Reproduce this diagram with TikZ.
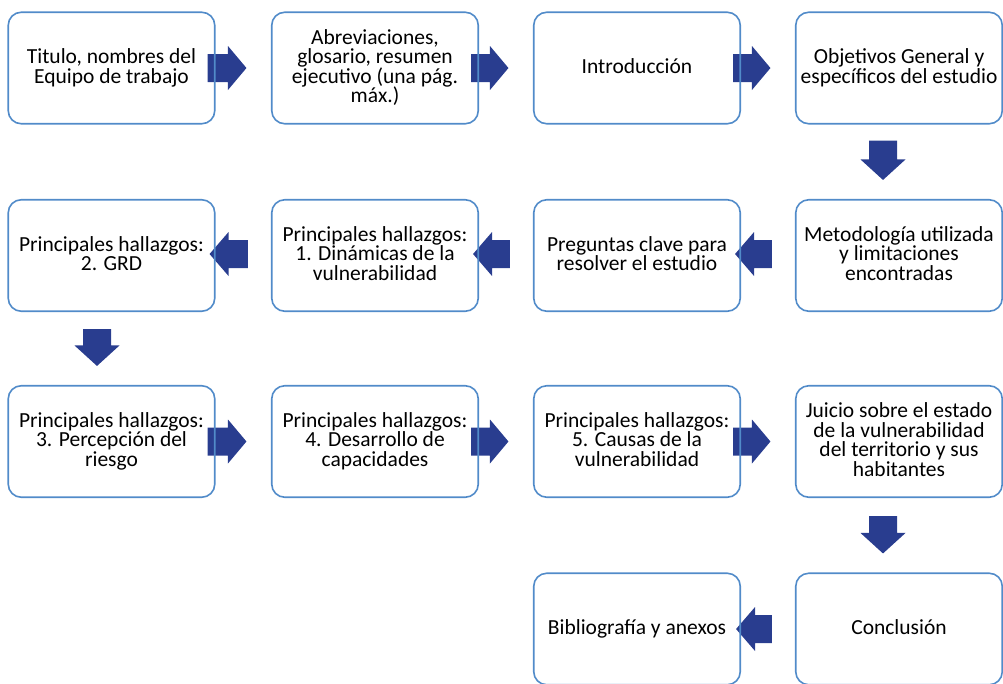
\documentclass[tikz,border=0pt]{standalone}
\usepackage{fontspec}
\setmainfont{Carlito}
\usetikzlibrary{calc}
\definecolor{boxline}{RGB}{81,139,201}
\definecolor{arrfill}{RGB}{41,61,143}
\newcommand\Hs{\rule{0pt}{16pt}}
\newcommand\Ds{\rule[-5.5pt]{0pt}{5.5pt}}
\pgfdeclarelayer{bg}
\pgfsetlayers{bg,main}
% block arrow from #1 to tip #2, head length #3, head half-width #4
\newcommand\blockarrow[4]{%
  \path (#1) coordinate (tmpA) (#2) coordinate (tmpB);
  \path ($(tmpB)!#3!(tmpA)$) coordinate (tmpH);
  \fill[arrfill] ($(tmpA)!14pt!90:(tmpB)$) -- ($(tmpH)!14pt!-90:(tmpA)$)
    -- ($(tmpH)!#4!-90:(tmpA)$) -- (tmpB) -- ($(tmpH)!#4!90:(tmpA)$)
    -- ($(tmpH)!14pt!90:(tmpA)$) -- ($(tmpA)!14pt!-90:(tmpB)$) -- cycle;}
\begin{document}
\begin{tikzpicture}[x=1pt,y=-1pt,
  box/.style={draw=boxline, line width=1.6pt, rounded corners=13pt,
    minimum width=206.5pt, minimum height=111.5pt, inner sep=0pt,
    align=center, font=\fontsize{21.5}{19.5}\selectfont}]
\useasboundingbox (0,0) rectangle (1003,683);
% row 1
\node[box] (b11) at (111.5,68) {\Hs Titulo, nombres del\\Equipo de trabajo\Ds};
\node[box] (b12) at (375,68) {\Hs Abreviaciones,\\glosario, resumen\\ejecutivo (una pág.\\máx.)\Ds};
\node[box] (b13) at (637,68) {\Hs Introducción\Ds};
\node[box] (b14) at (899,68) {\Hs Objetivos General y\\específicos del estudio\Ds};
% row 2
\node[box] (b21) at (111.5,255.5) {\Hs Principales hallazgos:\\2. GRD\Ds};
\node[box] (b22) at (375,255.5) {\Hs Principales hallazgos:\\1. Dinámicas de la\\vulnerabilidad\Ds};
\node[box] (b23) at (637,255.5) {\Hs Preguntas clave para\\resolver el estudio\Ds};
\node[box] (b24) at (899,255.5) {\Hs Metodología utilizada\\y limitaciones\\encontradas\Ds};
% row 3
\node[box] (b31) at (111.5,441.5) {\Hs Principales hallazgos:\\3. Percepción del\\riesgo\Ds};
\node[box] (b32) at (375,441.5) {\Hs Principales hallazgos:\\4. Desarrollo de\\capacidades\Ds};
\node[box] (b33) at (637,441.5) {\Hs Principales hallazgos:\\5. Causas de la\\vulnerabilidad\Ds};
\node[box] (b34) at (899,441.5) {\Hs Juicio sobre el estado\\de la vulnerabilidad\\del territorio y sus\\habitantes\Ds};
% row 4
\node[box] (b43) at (637,629) {\Hs Bibliografía y anexos\Ds};
\node[box] (b44) at (899,629) {\Hs Conclusión\Ds};
\begin{pgfonlayer}{bg}
% row 1
\blockarrow{[xshift=-8pt]b11.east}{[xshift=-24.5pt]b12.west}{18.5pt}{22pt}
\blockarrow{[xshift=-8pt]b12.east}{[xshift=-24.5pt]b13.west}{18.5pt}{22pt}
\blockarrow{[xshift=-8pt]b13.east}{[xshift=-24.5pt]b14.west}{18.5pt}{22pt}
% down
\blockarrow{[xshift=-16pt,yshift=-16pt]b14.south}{[xshift=-16pt,yshift=19pt]b24.north}{20.5pt}{22.5pt}
% row 2
\blockarrow{[xshift=-23pt,yshift=1.5pt]b24.west}{[xshift=-6pt,yshift=1.5pt]b23.east}{19pt}{22pt}
\blockarrow{[xshift=-23pt,yshift=1.5pt]b23.west}{[xshift=-6pt,yshift=1.5pt]b22.east}{19pt}{22pt}
\blockarrow{[xshift=-23pt,yshift=1.5pt]b22.west}{[xshift=-6pt,yshift=1.5pt]b21.east}{19pt}{22pt}
% down
\blockarrow{[xshift=-14.5pt,yshift=-17pt]b21.south}{[xshift=-14.5pt,yshift=19pt]b31.north}{20.5pt}{22.5pt}
% row 3
\blockarrow{[xshift=-8pt]b31.east}{[xshift=-24.5pt]b32.west}{18.5pt}{22pt}
\blockarrow{[xshift=-8pt]b32.east}{[xshift=-24.5pt]b33.west}{18.5pt}{22pt}
\blockarrow{[xshift=-8pt]b33.east}{[xshift=-24.5pt]b34.west}{18.5pt}{22pt}
% down
\blockarrow{[xshift=-16pt,yshift=-18pt]b34.south}{[xshift=-16pt,yshift=19pt]b44.north}{20.5pt}{22.5pt}
% row 4
\blockarrow{[xshift=-23pt]b44.west}{[xshift=-5pt]b43.east}{19pt}{22pt}
\end{pgfonlayer}
\end{tikzpicture}
\end{document}
